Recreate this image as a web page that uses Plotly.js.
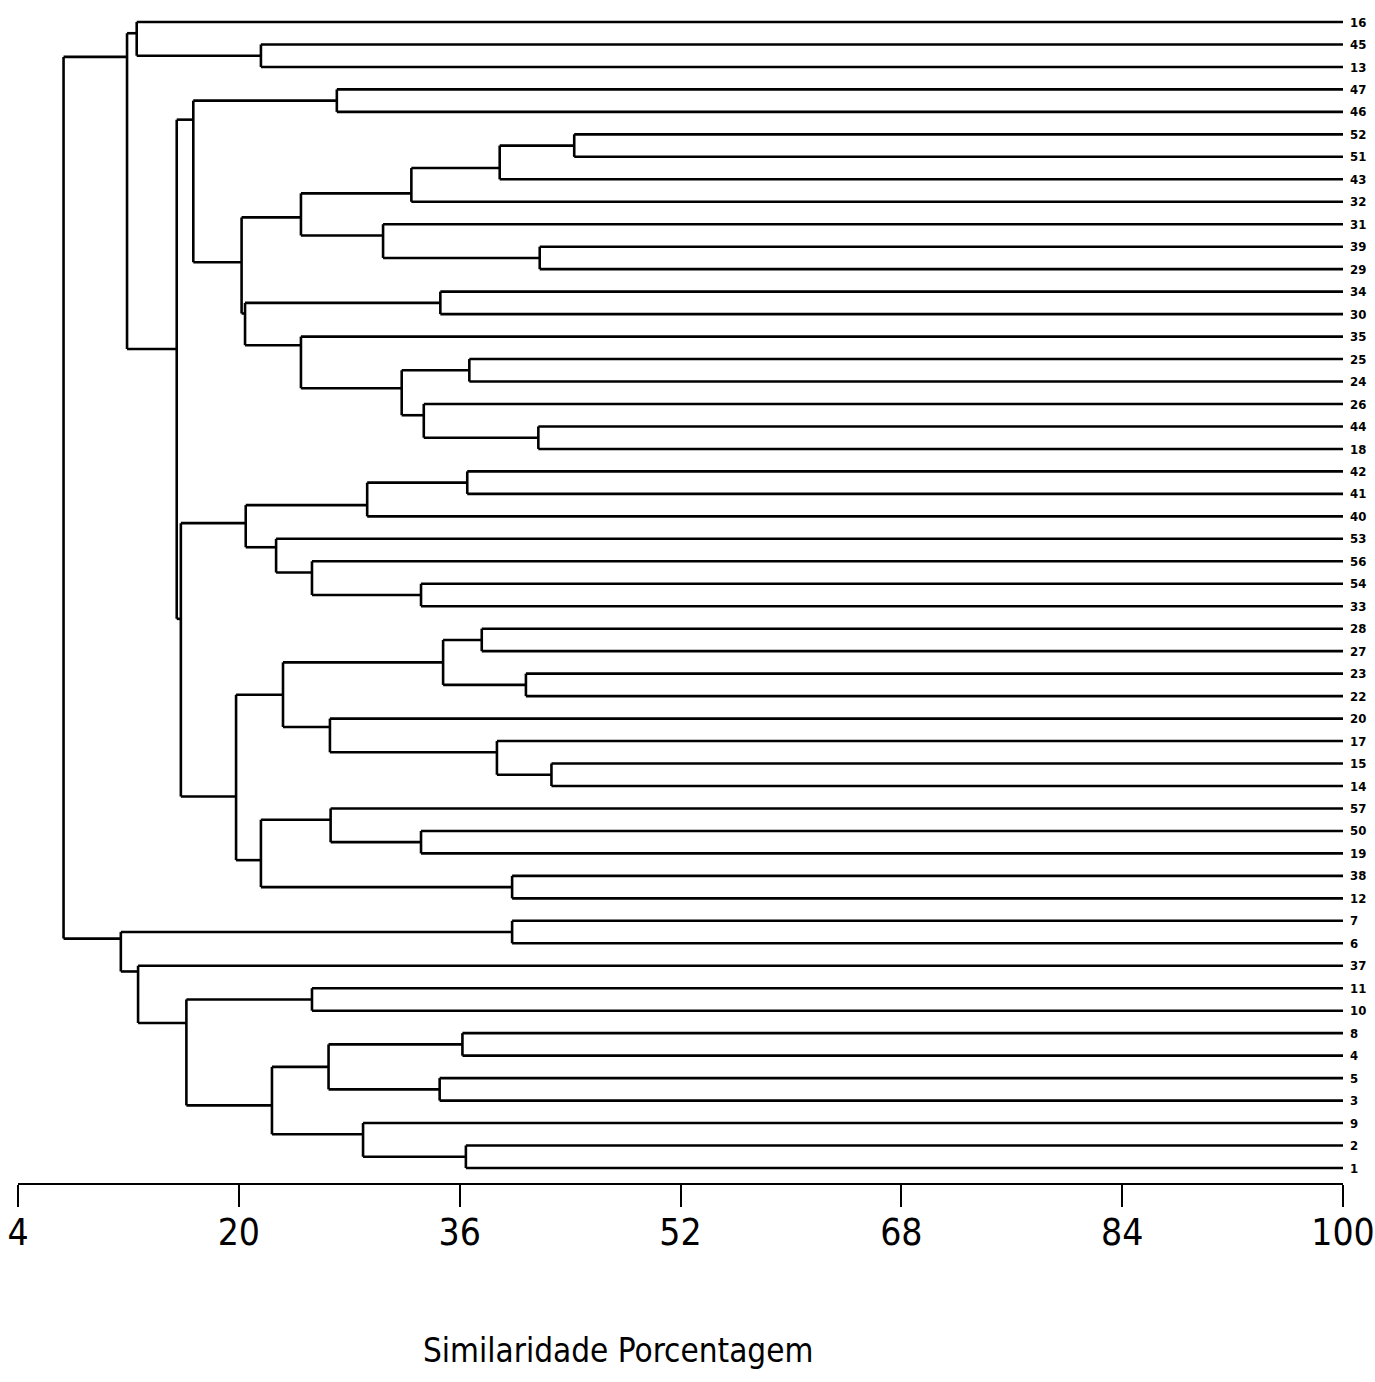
<!DOCTYPE html>
<html>
<head>
<meta charset="utf-8">
<script src="https://cdn.plot.ly/plotly-3.0.1.min.js"></script>
<style>html,body{margin:0;padding:0;background:#fff;}</style>
</head>
<body>
<div id="chart" style="width:1375px;height:1382px;"></div>
<script>
// Leaf labels, top to bottom
const leafLabels = ['16','45','13','47','46','52','51','43','32','31','39','29','34','30','35','25','24','26','44','18',
  '42','41','40','53','56','54','33','28','27','23','22','20','17','15','14','57','50','19','38','12',
  '7','6','37','11','10','8','4','5','3','9','2','1'];

// Merge steps: child A, child B (leaf label string or earlier merge index), similarity (%)
const mergeA = ['45','16','47','52',3,4,'39','31',5,'34','25','44','26',10,'35',9,8,2,
  '42',18,'54','56','53',19,'28','23',24,'15','17','20',26,'50','57','38',32,30,23,17,1,
  '7','11','8','5',41,'2','9',43,40,'37',39,38];
const mergeB = ['13',0,'46','51','43','32','29',6,7,'30','24','18',11,12,13,14,15,16,
  '41','40','33',20,21,22,'27','22',25,'14',27,28,29,'19',31,'12',33,34,35,36,37,
  '6','10','4','3',42,'1',44,45,46,47,48,49];
const mergeHeight = [21.6,12.6,27.1,44.3,38.9,32.5,41.8,30.45,24.5,34.6,36.7,41.7,33.4,31.8,24.5,20.45,20.2,16.7,
  36.55,29.3,33.2,25.3,22.7,20.5,37.6,40.8,34.8,42.65,38.7,26.6,23.2,33.2,26.65,39.8,21.6,19.8,15.8,15.5,11.9,
  39.8,25.3,36.2,34.55,26.5,36.45,29.0,22.4,16.2,12.7,11.45,7.3];

const xTicks = [4,20,36,52,68,84,100];
const xTitle = 'Similaridade Porcentagem';

// ---- build dendrogram segments ----
const leafIndex = {};
leafLabels.forEach((l,i)=>leafIndex[l]=i);
const nodeY = [], nodeN = [];
function info(ref){
  if (typeof ref === 'string') return {y: leafIndex[ref], n: 1, h: 100};
  return {y: nodeY[ref], n: nodeN[ref], h: mergeHeight[ref]};
}
const xs = [], ys = [];
function seg(x0,y0,x1,y1){ xs.push(x0,x1,null); ys.push(y0,y1,null); }
for (let k = 0; k < mergeHeight.length; k++) {
  const a = info(mergeA[k]), b = info(mergeB[k]), h = mergeHeight[k];
  nodeN[k] = a.n + b.n;
  nodeY[k] = (a.y*b.n + b.y*a.n) / (a.n + b.n);
  seg(h, a.y, h, b.y);
  seg(h, a.y, a.h, a.y);
  seg(h, b.y, b.h, b.y);
}

const narrow = '"DejaVu Sans Condensed", "Liberation Sans Narrow", Arial, sans-serif';
const trace = {
  type: 'scatter', mode: 'lines', x: xs, y: ys,
  line: {color: '#000', width: 2.6}, hoverinfo: 'skip', connectgaps: false
};

const layout = {
  width: 1375, height: 1382,
  margin: {l: 18, r: 32, t: 10, b: 199},
  paper_bgcolor: '#fff', plot_bgcolor: '#fff',
  showlegend: false,
  xaxis: {
    range: [4, 100], tickvals: xTicks, ticktext: xTicks.map(String),
    showgrid: false, zeroline: false,
    showline: true, linecolor: '#000', linewidth: 2,
    ticks: 'outside', ticklen: 22, tickwidth: 2, tickcolor: '#000',
    ticklabeloverflow: 'allow', ticklabelstandoff: -6,
    tickfont: {family: narrow, size: 37, color: '#000'}
  },
  yaxis: {
    range: [51.668, -0.534], side: 'right',
    tickvals: leafLabels.map((_,i)=>i), ticktext: leafLabels,
    showgrid: false, zeroline: false, showline: false, ticks: '',
    ticklabelstandoff: 6,
    tickfont: {family: narrow, size: 13, color: '#000', weight: 'bold'}
  },
  annotations: [{
    xref: 'paper', yref: 'paper', x: 0.4528, y: -0.1424,
    xanchor: 'center', yanchor: 'middle', showarrow: false,
    text: xTitle, font: {family: narrow, size: 33, color: '#000'}
  }]
};
Plotly.newPlot('chart', [trace], layout, {displayModeBar: false, staticPlot: true});
</script>
</body>
</html>
